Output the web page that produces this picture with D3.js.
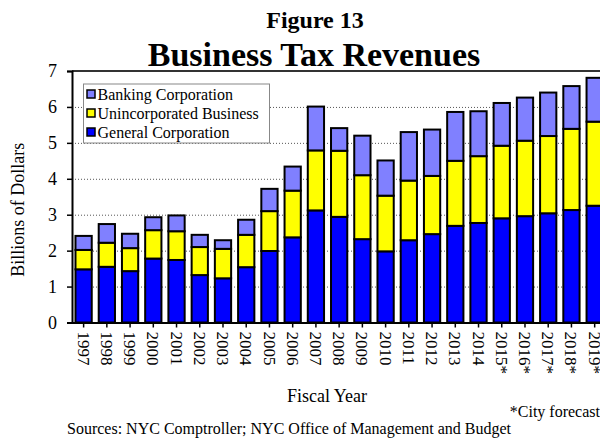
<!DOCTYPE html>
<html>
<head>
<meta charset="utf-8">
<script src="https://cdn.jsdelivr.net/npm/d3@7"></script>
<style>
  body { margin: 0; background: #fff; }
  svg { display: block; font-family: "Liberation Serif", "Times New Roman", serif; }
</style>
</head>
<body>
<svg width="600" height="439"></svg>
<script>
// data (billions of dollars)
const years = ['1997', '1998', '1999', '2000', '2001', '2002', '2003', '2004', '2005', '2006',
  '2007', '2008', '2009', '2010', '2011', '2012', '2013', '2014', '2015*', '2016*', '2017*', '2018*', '2019*'];
const generalCorp = [1.48, 1.55, 1.43, 1.78, 1.74, 1.32, 1.23, 1.54, 1.99, 2.37,
  3.12, 2.94, 2.32, 1.98, 2.29, 2.46, 2.69, 2.77, 2.90, 2.96, 3.04, 3.13, 3.25];
const unincorporated = [0.54, 0.67, 0.64, 0.79, 0.80, 0.78, 0.82, 0.90, 1.11, 1.30,
  1.67, 1.84, 1.78, 1.55, 1.66, 1.62, 1.81, 1.86, 2.02, 2.10, 2.15, 2.26, 2.34];
const bankingCorp = [0.39, 0.52, 0.40, 0.36, 0.44, 0.34, 0.24, 0.42, 0.62, 0.67,
  1.22, 0.63, 1.10, 0.98, 1.35, 1.29, 1.36, 1.25, 1.19, 1.20, 1.21, 1.19, 1.22];
const yTicks = [0, 1, 2, 3, 4, 5, 6, 7];

const seriesKeys = ['general', 'unincorporated', 'banking'];
const seriesNames = {
  general: 'General Corporation',
  unincorporated: 'Unincorporated Business',
  banking: 'Banking Corporation'
};
const colors = { general: '#0000ff', unincorporated: '#ffff00', banking: '#8080ff' };

const svg = d3.select('svg');

// setup
const margin = { top: 71, left: 72 };
const step = 23.23;
const innerWidth = step * years.length;
const innerHeight = 322.5 - margin.top;

const table = years.map((year, i) => ({
  year,
  general: generalCorp[i],
  unincorporated: unincorporated[i],
  banking: bankingCorp[i]
}));

const g = svg.append('g')
  .attr('transform', `translate(${margin.left}, ${margin.top})`);

const xScale = d3.scaleBand()
  .domain(years)
  .range([0, innerWidth])
  .paddingInner(0.3)
  .paddingOuter(0.15);

const yScale = d3.scaleLinear()
  .domain([0, 7])
  .range([innerHeight, 0]);

// dotted gridlines
const grid = g.append('g')
  .call(d3.axisLeft(yScale).tickValues(yTicks.slice(1, -1)).tickSize(-innerWidth).tickFormat(''));
grid.select('.domain').remove();
grid.selectAll('line')
  .attr('stroke', '#555')
  .attr('stroke-width', 1)
  .attr('stroke-dasharray', '1,2');

// top frame line
g.append('line')
  .attr('x1', 0).attr('x2', innerWidth)
  .attr('y1', 0).attr('y2', 0)
  .attr('stroke', '#333')
  .attr('stroke-width', 2);

// stacked bars
const stacked = d3.stack().keys(seriesKeys)(table);

g.selectAll('.series')
  .data(stacked)
  .join('g')
    .attr('class', 'series')
    .attr('fill', d => colors[d.key])
  .selectAll('rect')
  .data(d => d)
  .join('rect')
    .attr('x', d => xScale(d.data.year))
    .attr('y', d => yScale(d[1]))
    .attr('width', xScale.bandwidth())
    .attr('height', d => yScale(d[0]) - yScale(d[1]))
    .attr('stroke', '#000')
    .attr('stroke-width', 2);

// y-axis
const yAxisG = g.append('g')
  .call(d3.axisLeft(yScale).tickValues(yTicks).tickFormat(d3.format('d')).tickSize(5).tickPadding(10))
  .attr('font-family', null)
  .attr('font-size', 18);
yAxisG.select('.domain').attr('stroke', '#000').attr('stroke-width', 2);
yAxisG.selectAll('line').attr('stroke', '#000').attr('stroke-width', 1.5);
yAxisG.selectAll('text').attr('fill', '#000');

// x-axis
const xAxisG = g.append('g')
  .attr('transform', `translate(0, ${innerHeight})`)
  .call(d3.axisBottom(xScale).tickSize(5).tickSizeOuter(0))
  .attr('font-family', null)
  .attr('font-size', 17);
xAxisG.select('.domain').attr('stroke', '#000').attr('stroke-width', 2);
xAxisG.selectAll('line').attr('stroke', '#000').attr('stroke-width', 1.5);
xAxisG.selectAll('text')
  .attr('fill', '#000')
  .attr('transform', 'rotate(90)')
  .attr('text-anchor', 'start')
  .attr('x', 9)
  .attr('y', 0)
  .attr('dy', '0.35em');

// legend
const legend = g.append('g')
  .attr('transform', 'translate(11.5, 13)');
legend.append('rect')
  .attr('width', 186)
  .attr('height', 59)
  .attr('fill', '#fff')
  .attr('stroke', '#888')
  .attr('stroke-width', 1);
const legendKeys = seriesKeys.slice().reverse();
const legendItem = legend.selectAll('.legend-item')
  .data(legendKeys)
  .join('g')
    .attr('class', 'legend-item')
    .attr('transform', (d, i) => `translate(0, ${10 + i * 19})`);
legendItem.append('rect')
  .attr('x', 3.5)
  .attr('y', -4)
  .attr('width', 8)
  .attr('height', 8)
  .attr('fill', d => colors[d])
  .attr('stroke', '#000')
  .attr('stroke-width', 1.5);
legendItem.append('text')
  .attr('x', 14)
  .attr('dy', '0.35em')
  .attr('font-size', 16)
  .text(d => seriesNames[d]);

// axis titles
svg.append('text')
  .attr('transform', `translate(24, ${margin.top + innerHeight / 2 + 13}) rotate(-90)`)
  .attr('text-anchor', 'middle')
  .attr('font-size', 18)
  .text('Billions of Dollars');

svg.append('text')
  .attr('x', 327)
  .attr('y', 402)
  .attr('text-anchor', 'middle')
  .attr('font-size', 18)
  .text('Fiscal Year');

// titles
svg.append('text')
  .attr('x', 315)
  .attr('y', 28)
  .attr('text-anchor', 'middle')
  .attr('font-size', 24)
  .attr('font-weight', 'bold')
  .text('Figure 13');

svg.append('text')
  .attr('x', 314)
  .attr('y', 66)
  .attr('text-anchor', 'middle')
  .attr('font-size', 34)
  .attr('font-weight', 'bold')
  .text('Business Tax Revenues');

// notes
svg.append('text')
  .attr('x', 600)
  .attr('y', 417)
  .attr('text-anchor', 'end')
  .attr('font-size', 16)
  .text('*City forecast');

svg.append('text')
  .attr('x', 67)
  .attr('y', 434)
  .attr('font-size', 16)
  .text('Sources: NYC Comptroller; NYC Office of Management and Budget');
</script>
</body>
</html>
